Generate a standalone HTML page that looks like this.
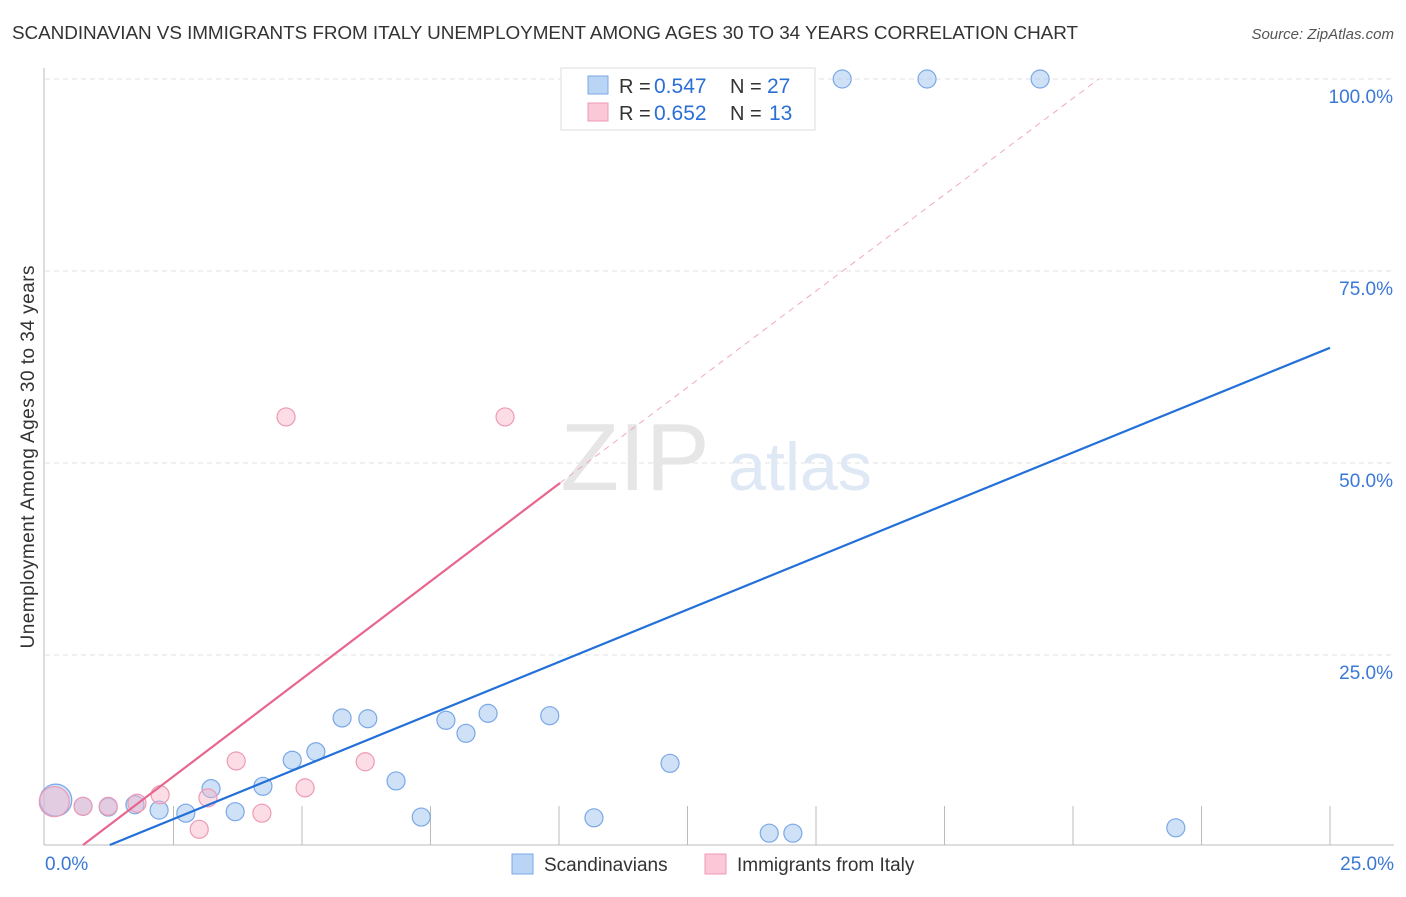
<!DOCTYPE html>
<html><head><meta charset="utf-8"><style>
body{margin:0;background:#fff;font-family:"Liberation Sans",sans-serif}
svg text{font-family:"Liberation Sans",sans-serif}
</style></head><body>
<svg width="1406" height="892">
<text x="12" y="39" font-size="18.9" fill="#333" textLength="1066">SCANDINAVIAN VS IMMIGRANTS FROM ITALY UNEMPLOYMENT AMONG AGES 30 TO 34 YEARS CORRELATION CHART</text>
<text x="1394" y="39" font-size="15" fill="#555" font-style="italic" text-anchor="end">Source: ZipAtlas.com</text>
<g id="grid"></g>
<text x="635" y="490" font-size="96" fill="#e6e6e6" font-family="Liberation Serif" text-anchor="middle">ZIP</text>
<text x="800" y="490" font-size="68" fill="#dfe8f5" text-anchor="middle">atlas</text>
<g id="marks"></g>
<text transform="translate(34,457) rotate(-90)" font-size="19" fill="#333" text-anchor="middle" textLength="383">Unemployment Among Ages 30 to 34 years</text>
<g>
<rect x="561" y="68" width="254" height="62" fill="#fff" stroke="#ddd"/>
<rect x="588" y="76" width="20" height="18" fill="#b9d4f5" stroke="#7aa8e6"/>
<text x="619" y="93" font-size="20" fill="#333">R =</text>
<text x="654" y="93" font-size="21" fill="#2a6fd6">0.547</text>
<text x="730" y="93" font-size="20" fill="#333">N =</text>
<text x="767" y="93" font-size="21" fill="#2a6fd6">27</text>
<rect x="588" y="103" width="20" height="18" fill="#fbc8d8" stroke="#ee9ab5"/>
<text x="619" y="120" font-size="20" fill="#333">R =</text>
<text x="654" y="120" font-size="21" fill="#2a6fd6">0.652</text>
<text x="730" y="120" font-size="20" fill="#333">N =</text>
<text x="769" y="120" font-size="21" fill="#2a6fd6">13</text>
</g>
<g>
<rect x="512" y="854" width="21" height="20" fill="#b9d4f5" stroke="#7aa8e6"/>
<text x="544" y="871" font-size="19" fill="#333">Scandinavians</text>
<rect x="705" y="854" width="21" height="20" fill="#fbc8d8" stroke="#ee9ab5"/>
<text x="737" y="871" font-size="19" fill="#333">Immigrants from Italy</text>
</g>
</svg>
<script>
const blueX=[0.21,0.74,1.23,1.75,2.22,2.74,3.23,3.70,4.24,4.81,5.27,5.78,6.28,6.83,7.32,7.80,8.19,8.62,9.82,10.68,12.16,14.09,14.55,15.51,17.16,19.36,22.00];
const blueY=[6.1,5.3,5.2,5.5,4.8,4.4,7.6,4.6,7.9,11.3,12.4,16.8,16.7,8.6,3.9,16.5,14.8,17.4,17.1,3.8,10.9,1.8,1.8,100,100,100,2.5];
const pinkX=[0.18,0.74,1.23,1.79,2.24,3.17,3.00,3.72,4.22,4.69,5.06,6.23,8.95];
const pinkY=[5.9,5.3,5.3,5.7,6.8,6.4,2.3,11.2,4.4,56.0,7.7,11.1,56.0];
const blueTrend=[1.26,0.26,25,65.0];
const pinkTrend=[0.74,0.26,10.02,47.4];
const pinkDash=[10.02,47.4,20.5,100];
const xTicks=[0,2.5,5,7.5,10,12.5,15,17.5,20,22.5,25];
const yTicks=[25,50,75,100];
const yLabels=["25.0%","50.0%","75.0%","100.0%"];
const NS="http://www.w3.org/2000/svg";
const sx=v=>45+v/25*1285, sy=v=>847-v/100*768;
function mk(parent,tag,attrs){const e=document.createElementNS(NS,tag);for(const k in attrs)e.setAttribute(k,attrs[k]);document.getElementById(parent).appendChild(e);return e;}
yTicks.forEach((t,i)=>{
 let l=mk('grid','line',{x1:45,x2:1394,y1:sy(t),y2:sy(t),stroke:'#e2e2e2','stroke-dasharray':'5,4'});
 
 
 let tx=mk('grid','text',{x:1393,y:sy(t)+24,'font-size':19,fill:'#3a78d6','text-anchor':'end'});tx.textContent=yLabels[i];
 
 
});
let ax=mk('grid','line',{x1:44,x2:1394,y1:845,y2:845,stroke:'#bbb'});


let ay=mk('grid','line',{x1:44,x2:44,y1:68,y2:845,stroke:'#bbb'});


xTicks.slice(1).forEach(t=>{let l=mk('grid','line',{x1:sx(t),x2:sx(t),y1:806,y2:845,stroke:'#bbb'});
 
 });
let x0=mk('grid','text',{x:45,y:870,'font-size':19,fill:'#3a78d6'});x0.textContent='0.0%';


let x1=mk('grid','text',{x:1394,y:870,'font-size':19,fill:'#3a78d6','text-anchor':'end'});x1.textContent='25.0%';


blueX.forEach((v,i)=>{let c=mk('marks','circle',{cx:sx(v),cy:sy(blueY[i]),r:i==0?16:9,fill:'rgba(160,196,240,0.5)',stroke:'#7aa8e6','stroke-width':1.2});
 
 });
pinkX.forEach((v,i)=>{let c=mk('marks','circle',{cx:sx(v),cy:sy(pinkY[i]),r:i==0?15:9,fill:'rgba(248,180,200,0.45)',stroke:'#ee9ab5','stroke-width':1.2});
 
 });
let d=mk('marks','line',{x1:sx(pinkDash[0]),y1:sy(pinkDash[1]),x2:sx(pinkDash[2]),y2:sy(pinkDash[3]),stroke:'#f0a8bd','stroke-dasharray':'6,5','stroke-width':1});


let p=mk('marks','line',{x1:sx(pinkTrend[0]),y1:sy(pinkTrend[1]),x2:sx(pinkTrend[2]),y2:sy(pinkTrend[3]),stroke:'#e8668e','stroke-width':2.2});


let b=mk('marks','line',{x1:sx(blueTrend[0]),y1:sy(blueTrend[1]),x2:sx(blueTrend[2]),y2:sy(blueTrend[3]),stroke:'#2270d8','stroke-width':2.2});


</script>
</body></html>
